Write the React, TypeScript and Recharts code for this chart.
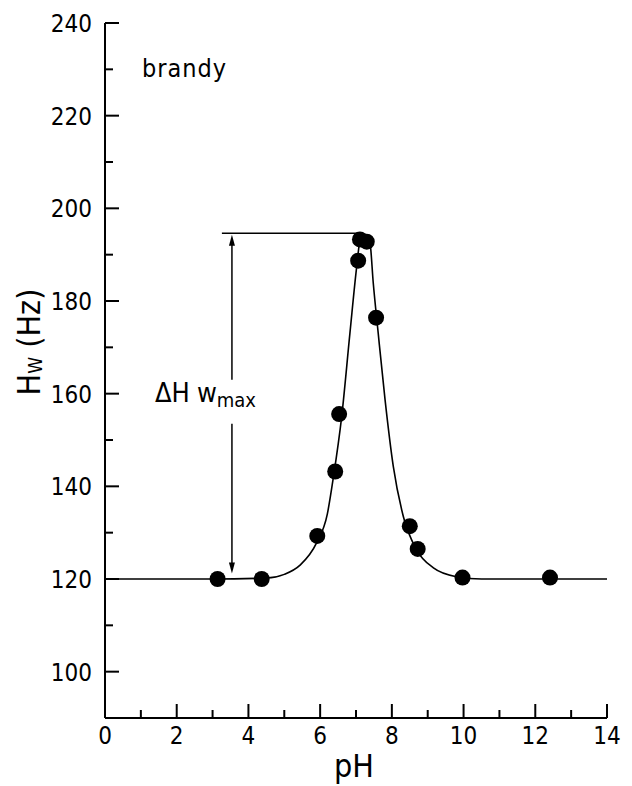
import React from "react";
import {ComposedChart, Line, Scatter, XAxis, YAxis, ReferenceLine, ReferenceDot} from "recharts";

// measured points (pH, Hw in Hz)
const pointPH = [3.14, 4.37, 5.92, 6.42, 6.53, 7.06, 7.11, 7.30, 7.56, 8.50, 8.72, 9.97, 12.41];
const pointHw = [120, 120, 129.3, 143.2, 155.6, 188.7, 193.3, 192.8, 176.4, 131.4, 126.5, 120.3, 120.3];

// fitted curve
const curvePH = [0, 3, 4.5, 5.0, 5.44, 5.9, 6.2, 6.37, 6.6, 6.83, 7.02, 7.13, 7.25, 7.39, 7.48, 7.62, 7.81, 8.04, 8.32, 8.69, 9.16, 9.8, 10.5, 14];
const curveHw = [120, 120, 120.2, 121, 123, 127.8, 134, 142, 155, 173, 187.4, 193.8, 194.4, 192.5, 184, 173, 158.7, 144.3, 133.5, 126.3, 122.4, 120.5, 120, 120];

const xTicks = [0, 1, 2, 3, 4, 5, 6, 7, 8, 9, 10, 11, 12, 13, 14];
const yTicks = [100, 110, 120, 130, 140, 150, 160, 170, 180, 190, 200, 210, 220, 230, 240];

const maxHw = 194.6;
const arrowX = 3.54;

const points = pointPH.map((x, i) => ({x, y: pointHw[i]}));
const curve = curvePH.map((x, i) => ({x, y: curveHw[i]}));

const FONT = "'DejaVu Sans Condensed', 'Liberation Sans Narrow', 'DejaVu Sans', sans-serif";

const YTick = (props: any) => {
    const {x, y, payload} = props;
    const major = payload.value % 20 === 0;
    return (
        <g>
            <line x1={x} x2={x + (major ? 14 : 8)} y1={y} y2={y} stroke="#000" strokeWidth={2}/>
            {major && (
                <text x={x - 13} y={y} dy="0.37em" textAnchor="end" fontSize={24} fontFamily={FONT} fill="#000">
                    {payload.value}
                </text>
            )}
        </g>
    );
};

const XTick = (props: any) => {
    const {x, y, payload} = props;
    const major = payload.value % 2 === 0;
    return (
        <g>
            {payload.value !== 0 && (
                <line x1={x} x2={x} y1={y} y2={y - (major ? 14 : 8)} stroke="#000" strokeWidth={2}/>
            )}
            {major && (
                <text x={x} y={y + 26} textAnchor="middle" fontSize={24} fontFamily={FONT} fill="#000">
                    {payload.value}
                </text>
            )}
        </g>
    );
};

const Dot = (p: any) => <circle cx={p.cx} cy={p.cy} r={8} fill="#000"/>;

const UpHead = (p: any) => <path d={`M${p.cx},${p.cy} L${p.cx - 3},${p.cy + 11} L${p.cx + 3},${p.cy + 11} Z`} fill="#000"/>;
const DownHead = (p: any) => <path d={`M${p.cx},${p.cy} L${p.cx - 3},${p.cy - 11} L${p.cx + 3},${p.cy - 11} Z`} fill="#000"/>;

export default function App() {
    return (
        <div style={{position: 'absolute', left: 0, top: 0, width: 632, height: 786, background: '#fff'}}>
            <ComposedChart width={632} height={786} margin={{top: 23, right: 25, bottom: 0, left: 0}}>
                <XAxis type="number" dataKey="x" domain={[0, 14]} ticks={xTicks} interval={0}
                       height={68} tickSize={0} tickMargin={0} tick={<XTick/>}
                       axisLine={{stroke: '#000', strokeWidth: 2}} allowDataOverflow/>
                <YAxis type="number" dataKey="y" domain={[90, 240]} ticks={yTicks} interval={0}
                       width={105} tickSize={0} tickMargin={0} tick={<YTick/>}
                       axisLine={{stroke: '#000', strokeWidth: 2}} allowDataOverflow/>
                <ReferenceLine segment={[{x: 3.26, y: maxHw}, {x: 7.15, y: maxHw}]} stroke="#000" strokeWidth={1.5}/>
                <ReferenceLine segment={[{x: arrowX, y: 122}, {x: arrowX, y: 153.5}]} stroke="#000" strokeWidth={1.5}/>
                <ReferenceLine segment={[{x: arrowX, y: 163}, {x: arrowX, y: 193}]} stroke="#000" strokeWidth={1.5}/>
                <ReferenceDot x={arrowX} y={maxHw - 0.3} shape={UpHead}/>
                <ReferenceDot x={arrowX} y={121.2} shape={DownHead}/>
                <Line data={curve} dataKey="y" type="monotone" stroke="#000" strokeWidth={1.6}
                      dot={false} activeDot={false} isAnimationActive={false}/>
                <Scatter data={points} dataKey="y" shape={Dot} isAnimationActive={false}/>
            </ComposedChart>
            <svg width={632} height={786} style={{position: 'absolute', left: 0, top: 0, pointerEvents: 'none'}}>
                <text x={142} y={77} fontSize={25} fontFamily={FONT} letterSpacing={1} fill="#000">brandy</text>
                <text x={155} y={402} fontSize={27} fontFamily={FONT} fill="#000">
                    ΔH<tspan dx={7}>w</tspan>
                    <tspan fontSize={20} dy={5}>max</tspan>
                </text>
                <text x={354} y={777} textAnchor="middle" fontSize={32} fontFamily={FONT} fill="#000">pH</text>
                <text transform="translate(40,342) rotate(-90)" textAnchor="middle" fontSize={32}
                      fontFamily={FONT} fill="#000">
                    H<tspan fontSize={19} dy={2}>W</tspan><tspan dy={-2}>  (Hz)</tspan>
                </text>
            </svg>
        </div>
    );
}
